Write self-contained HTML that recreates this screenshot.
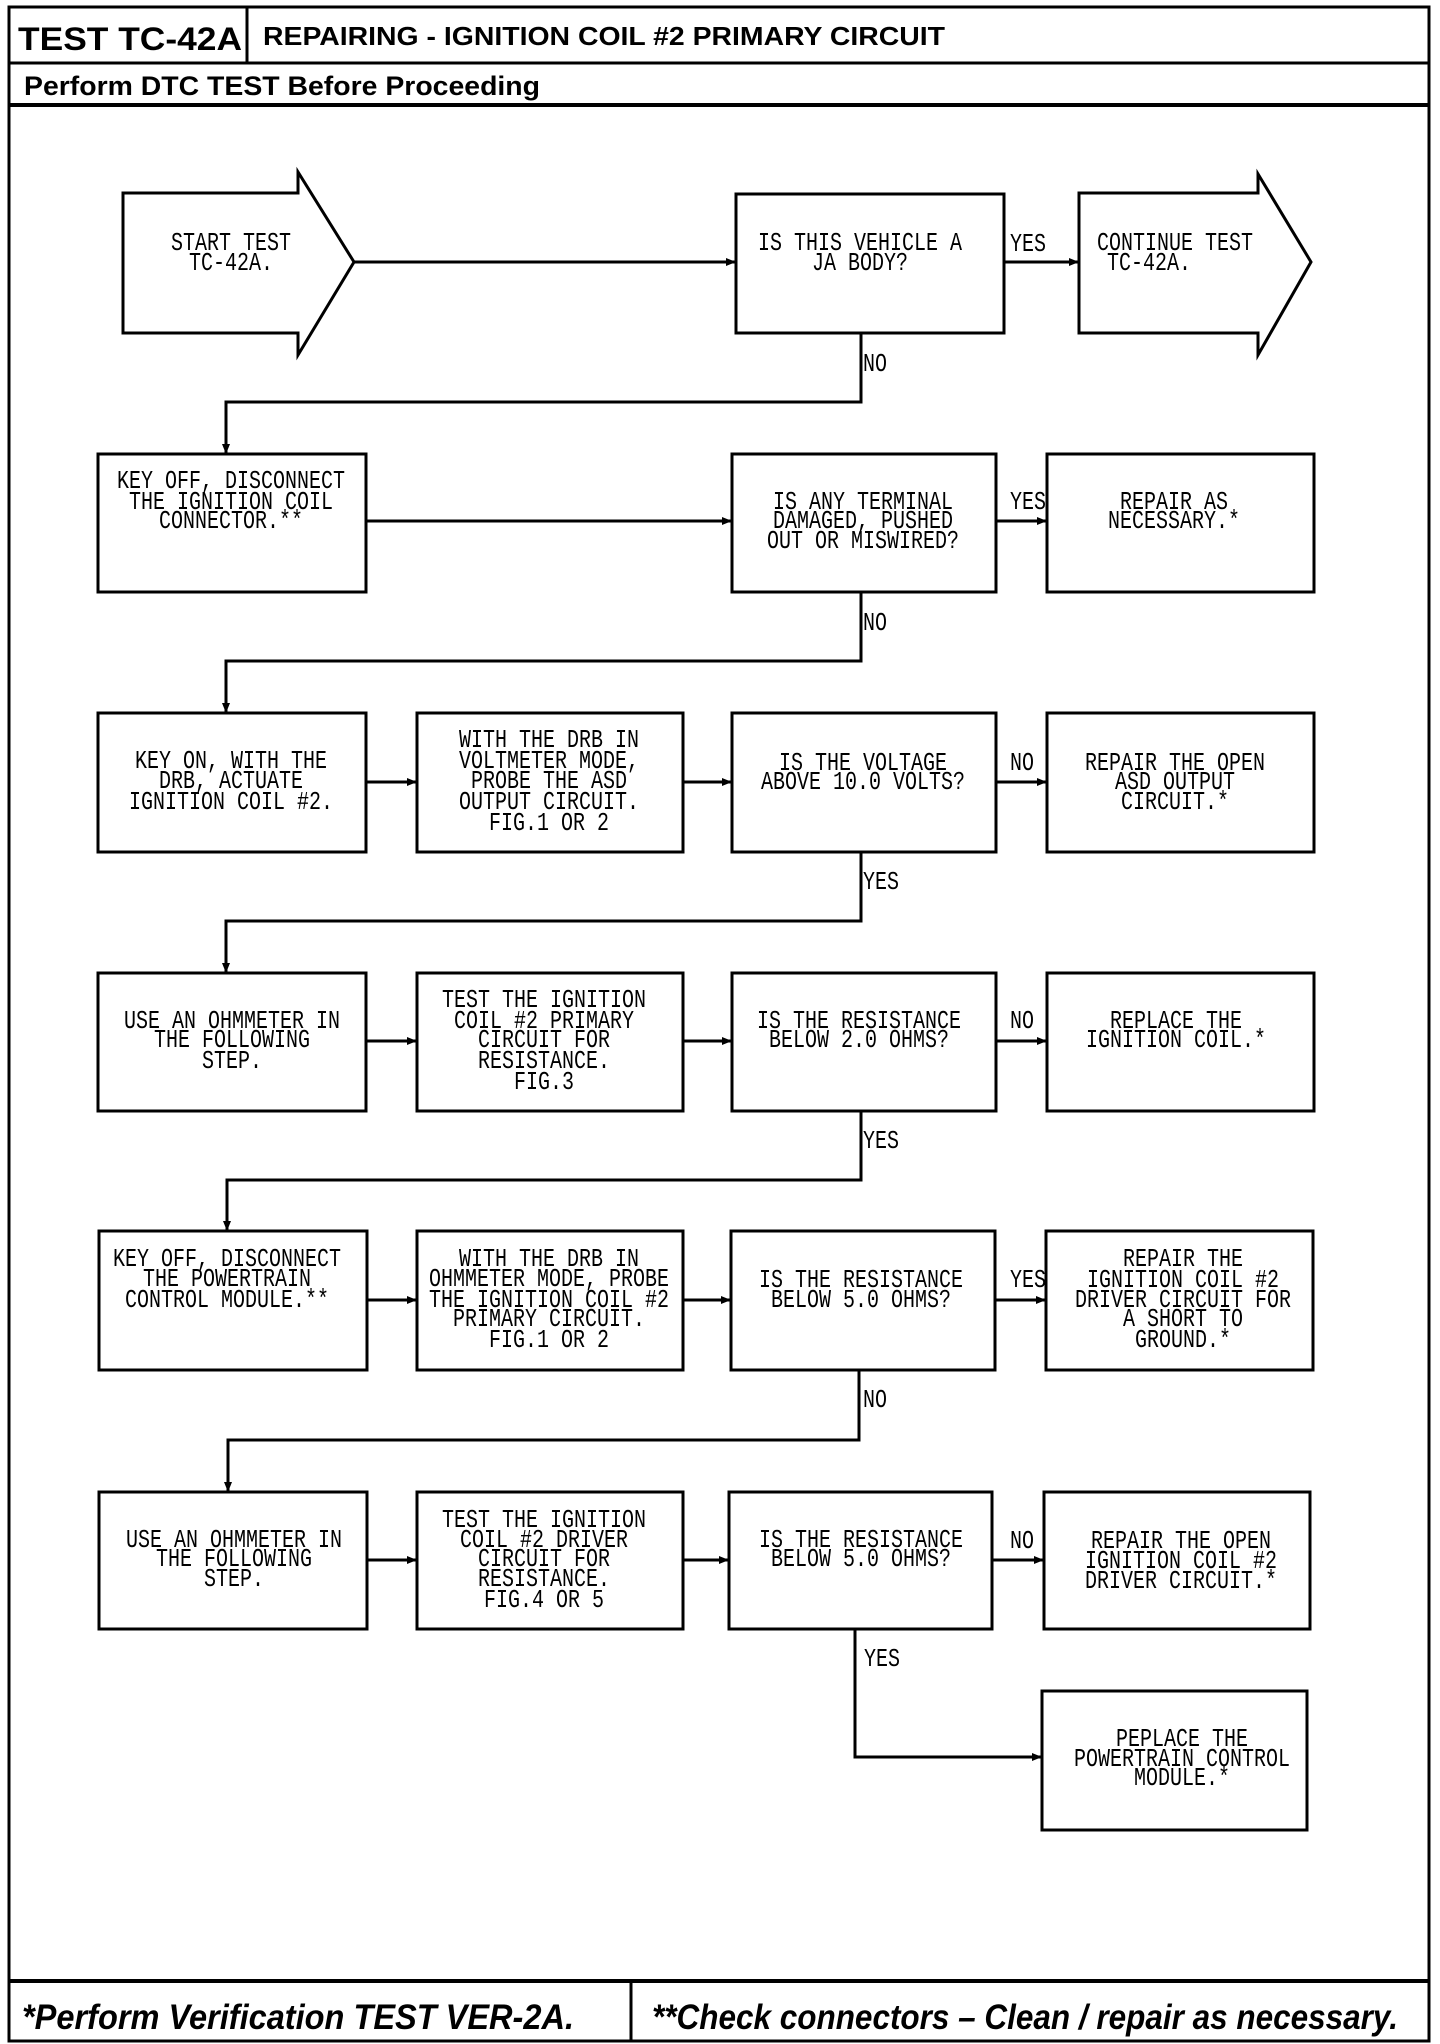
<!DOCTYPE html>
<html><head><meta charset="utf-8"><style>
html,body{margin:0;padding:0;background:#fff}
svg{display:block}
.t{font-family:"Liberation Mono",monospace;font-size:20px;fill:#000}
.b{fill:none;stroke:#000;stroke-width:3}
.l{fill:none;stroke:#000;stroke-width:3}
</style></head><body>
<svg width="1440" height="2044" viewBox="0 0 1440 2044" xmlns="http://www.w3.org/2000/svg">
<defs><marker id="a" markerWidth="10" markerHeight="10" refX="9" refY="5" orient="auto" markerUnits="userSpaceOnUse"><path d="M0,1 L10,5 L0,9 Z" fill="#000"/></marker></defs>
<!-- frame -->
<rect x="9" y="7" width="1420" height="2034" class="b"/>
<rect x="9" y="7" width="238" height="56" class="b"/>
<line x1="9" y1="63" x2="1429" y2="63" class="l"/>
<line x1="9" y1="105" x2="1429" y2="105" style="stroke:#000;stroke-width:4"/>
<line x1="9" y1="1981" x2="1429" y2="1981" style="stroke:#000;stroke-width:4"/>
<line x1="631" y1="1981" x2="631" y2="2041" class="l"/>
<text x="18" y="50" font-family="Liberation Sans,sans-serif" font-weight="bold" font-size="32" textLength="224" lengthAdjust="spacingAndGlyphs">TEST TC-42A</text>
<text x="263" y="45" font-family="Liberation Sans,sans-serif" font-weight="bold" font-size="26" textLength="682" lengthAdjust="spacingAndGlyphs">REPAIRING - IGNITION COIL #2 PRIMARY CIRCUIT</text>
<text x="24" y="95" font-family="Liberation Sans,sans-serif" font-weight="bold" font-size="27" textLength="516" lengthAdjust="spacingAndGlyphs">Perform DTC TEST Before Proceeding</text>
<text x="22" y="2029" font-family="Liberation Sans,sans-serif" font-weight="bold" font-style="italic" font-size="35" textLength="552" lengthAdjust="spacingAndGlyphs">*Perform Verification TEST VER-2A.</text>
<text x="652" y="2029" font-family="Liberation Sans,sans-serif" font-weight="bold" font-style="italic" font-size="35" textLength="746" lengthAdjust="spacingAndGlyphs">**Check connectors – Clean / repair as necessary.</text>

<!-- row1 shapes -->
<path d="M123,193 L298,193 L298,172 L354,262 L298,355 L298,333 L123,333 Z" class="b"/>
<rect x="736" y="194" width="268" height="139" class="b"/>
<path d="M1079,193 L1258,193 L1258,174 L1311,262 L1258,355 L1258,333 L1079,333 Z" class="b"/>
<!-- rows boxes -->
<g class="b">
<rect x="98" y="454" width="268" height="138"/><rect x="732" y="454" width="264" height="138"/><rect x="1047" y="454" width="267" height="138"/>
<rect x="98" y="713" width="268" height="139"/><rect x="417" y="713" width="266" height="139"/><rect x="732" y="713" width="264" height="139"/><rect x="1047" y="713" width="267" height="139"/>
<rect x="98" y="973" width="268" height="138"/><rect x="417" y="973" width="266" height="138"/><rect x="732" y="973" width="264" height="138"/><rect x="1047" y="973" width="267" height="138"/>
<rect x="99" y="1231" width="268" height="139"/><rect x="417" y="1231" width="266" height="139"/><rect x="731" y="1231" width="264" height="139"/><rect x="1046" y="1231" width="267" height="139"/>
<rect x="99" y="1492" width="268" height="137"/><rect x="417" y="1492" width="266" height="137"/><rect x="729" y="1492" width="263" height="137"/><rect x="1044" y="1492" width="266" height="137"/>
<rect x="1042" y="1691" width="265" height="139"/>
</g>
<!-- connectors -->
<g class="l" marker-end="url(#a)">
<path d="M354,262 H735"/><path d="M1004,262 H1078"/>
<path d="M861,333 V402 H226 V453"/>
<path d="M366,521 H731"/><path d="M996,521 H1046"/>
<path d="M861,592 V661 H226 V712"/>
<path d="M366,782 H416"/><path d="M683,782 H731"/><path d="M996,782 H1046"/>
<path d="M861,852 V921 H226 V972"/>
<path d="M366,1041 H416"/><path d="M683,1041 H731"/><path d="M996,1041 H1046"/>
<path d="M861,1111 V1180 H227 V1230"/>
<path d="M367,1300 H416"/><path d="M683,1300 H730"/><path d="M995,1300 H1045"/>
<path d="M859,1370 V1440 H228 V1491"/>
<path d="M367,1560 H416"/><path d="M683,1560 H728"/><path d="M992,1560 H1043"/>
<path d="M855,1629 V1757 H1041"/>
</g>
<!-- labels -->
<g class="t">
<text transform="translate(863,371) scale(1,1.3)">NO</text>
<text transform="translate(1010,251) scale(1,1.3)">YES</text>
<text transform="translate(1010,509) scale(1,1.3)">YES</text>
<text transform="translate(863,630) scale(1,1.3)">NO</text>
<text transform="translate(1010,770) scale(1,1.3)">NO</text>
<text transform="translate(863,889) scale(1,1.3)">YES</text>
<text transform="translate(1010,1028) scale(1,1.3)">NO</text>
<text transform="translate(863,1148) scale(1,1.3)">YES</text>
<text transform="translate(1010,1287) scale(1,1.3)">YES</text>
<text transform="translate(863,1407) scale(1,1.3)">NO</text>
<text transform="translate(1010,1548) scale(1,1.3)">NO</text>
<text transform="translate(864,1666) scale(1,1.3)">YES</text>
</g>
<g class="t" text-anchor="middle">
<!-- row1 -->
<text transform="translate(231,250) scale(1,1.3)">START TEST</text>
<text transform="translate(231,270) scale(1,1.3)">TC-42A.</text>
<text transform="translate(860,250) scale(1,1.3)">IS THIS VEHICLE A</text>
<text transform="translate(860,270) scale(1,1.3)">JA BODY?</text>
<text transform="translate(1175,250) scale(1,1.3)">CONTINUE TEST</text>
<text transform="translate(1149,270) scale(1,1.3)">TC-42A.</text>
<!-- row2 -->
<text transform="translate(231,488) scale(1,1.3)">KEY OFF, DISCONNECT</text>
<text transform="translate(231,509) scale(1,1.3)">THE IGNITION COIL</text>
<text transform="translate(231,528) scale(1,1.3)">CONNECTOR.**</text>
<text transform="translate(863,509) scale(1,1.3)">IS ANY TERMINAL</text>
<text transform="translate(863,528) scale(1,1.3)">DAMAGED, PUSHED</text>
<text transform="translate(863,548) scale(1,1.3)">OUT OR MISWIRED?</text>
<text transform="translate(1174,509) scale(1,1.3)">REPAIR AS</text>
<text transform="translate(1174,528) scale(1,1.3)">NECESSARY.*</text>
<!-- row3 -->
<text transform="translate(231,768) scale(1,1.3)">KEY ON, WITH THE</text>
<text transform="translate(231,788) scale(1,1.3)">DRB, ACTUATE</text>
<text transform="translate(231,809) scale(1,1.3)">IGNITION COIL #2.</text>
<text transform="translate(549,747) scale(1,1.3)">WITH THE DRB IN</text>
<text transform="translate(549,768) scale(1,1.3)">VOLTMETER MODE,</text>
<text transform="translate(549,788) scale(1,1.3)">PROBE THE ASD</text>
<text transform="translate(549,809) scale(1,1.3)">OUTPUT CIRCUIT.</text>
<text transform="translate(549,830) scale(1,1.3)">FIG.1 OR 2</text>
<text transform="translate(863,770) scale(1,1.3)">IS THE VOLTAGE</text>
<text transform="translate(863,789) scale(1,1.3)">ABOVE 10.0 VOLTS?</text>
<text transform="translate(1175,770) scale(1,1.3)">REPAIR THE OPEN</text>
<text transform="translate(1175,789) scale(1,1.3)">ASD OUTPUT</text>
<text transform="translate(1175,809) scale(1,1.3)">CIRCUIT.*</text>
<!-- row4 -->
<text transform="translate(232,1028) scale(1,1.3)">USE AN OHMMETER IN</text>
<text transform="translate(232,1047) scale(1,1.3)">THE FOLLOWING</text>
<text transform="translate(232,1068) scale(1,1.3)">STEP.</text>
<text transform="translate(544,1007) scale(1,1.3)">TEST THE IGNITION</text>
<text transform="translate(544,1028) scale(1,1.3)">COIL #2 PRIMARY</text>
<text transform="translate(544,1047) scale(1,1.3)">CIRCUIT FOR</text>
<text transform="translate(544,1068) scale(1,1.3)">RESISTANCE.</text>
<text transform="translate(544,1089) scale(1,1.3)">FIG.3</text>
<text transform="translate(859,1028) scale(1,1.3)">IS THE RESISTANCE</text>
<text transform="translate(859,1047) scale(1,1.3)">BELOW 2.0 OHMS?</text>
<text transform="translate(1176,1028) scale(1,1.3)">REPLACE THE</text>
<text transform="translate(1176,1047) scale(1,1.3)">IGNITION COIL.*</text>
<!-- row5 -->
<text transform="translate(227,1266) scale(1,1.3)">KEY OFF, DISCONNECT</text>
<text transform="translate(227,1286) scale(1,1.3)">THE POWERTRAIN</text>
<text transform="translate(227,1307) scale(1,1.3)">CONTROL MODULE.**</text>
<text transform="translate(549,1266) scale(1,1.3)">WITH THE DRB IN</text>
<text transform="translate(549,1286) scale(1,1.3)">OHMMETER MODE, PROBE</text>
<text transform="translate(549,1307) scale(1,1.3)">THE IGNITION COIL #2</text>
<text transform="translate(549,1326) scale(1,1.3)">PRIMARY CIRCUIT.</text>
<text transform="translate(549,1347) scale(1,1.3)">FIG.1 OR 2</text>
<text transform="translate(861,1287) scale(1,1.3)">IS THE RESISTANCE</text>
<text transform="translate(861,1307) scale(1,1.3)">BELOW 5.0 OHMS?</text>
<text transform="translate(1183,1266) scale(1,1.3)">REPAIR THE</text>
<text transform="translate(1183,1287) scale(1,1.3)">IGNITION COIL #2</text>
<text transform="translate(1183,1307) scale(1,1.3)">DRIVER CIRCUIT FOR</text>
<text transform="translate(1183,1326) scale(1,1.3)">A SHORT TO</text>
<text transform="translate(1183,1347) scale(1,1.3)">GROUND.*</text>
<!-- row6 -->
<text transform="translate(234,1547) scale(1,1.3)">USE AN OHMMETER IN</text>
<text transform="translate(234,1566) scale(1,1.3)">THE FOLLOWING</text>
<text transform="translate(234,1586) scale(1,1.3)">STEP.</text>
<text transform="translate(544,1527) scale(1,1.3)">TEST THE IGNITION</text>
<text transform="translate(544,1547) scale(1,1.3)">COIL #2 DRIVER</text>
<text transform="translate(544,1566) scale(1,1.3)">CIRCUIT FOR</text>
<text transform="translate(544,1586) scale(1,1.3)">RESISTANCE.</text>
<text transform="translate(544,1607) scale(1,1.3)">FIG.4 OR 5</text>
<text transform="translate(861,1547) scale(1,1.3)">IS THE RESISTANCE</text>
<text transform="translate(861,1566) scale(1,1.3)">BELOW 5.0 OHMS?</text>
<text transform="translate(1181,1548) scale(1,1.3)">REPAIR THE OPEN</text>
<text transform="translate(1181,1568) scale(1,1.3)">IGNITION COIL #2</text>
<text transform="translate(1181,1588) scale(1,1.3)">DRIVER CIRCUIT.*</text>
<!-- row7 -->
<text transform="translate(1182,1746) scale(1,1.3)">PEPLACE THE</text>
<text transform="translate(1182,1766) scale(1,1.3)">POWERTRAIN CONTROL</text>
<text transform="translate(1182,1785) scale(1,1.3)">MODULE.*</text>
</g>
</svg>
</body></html>
